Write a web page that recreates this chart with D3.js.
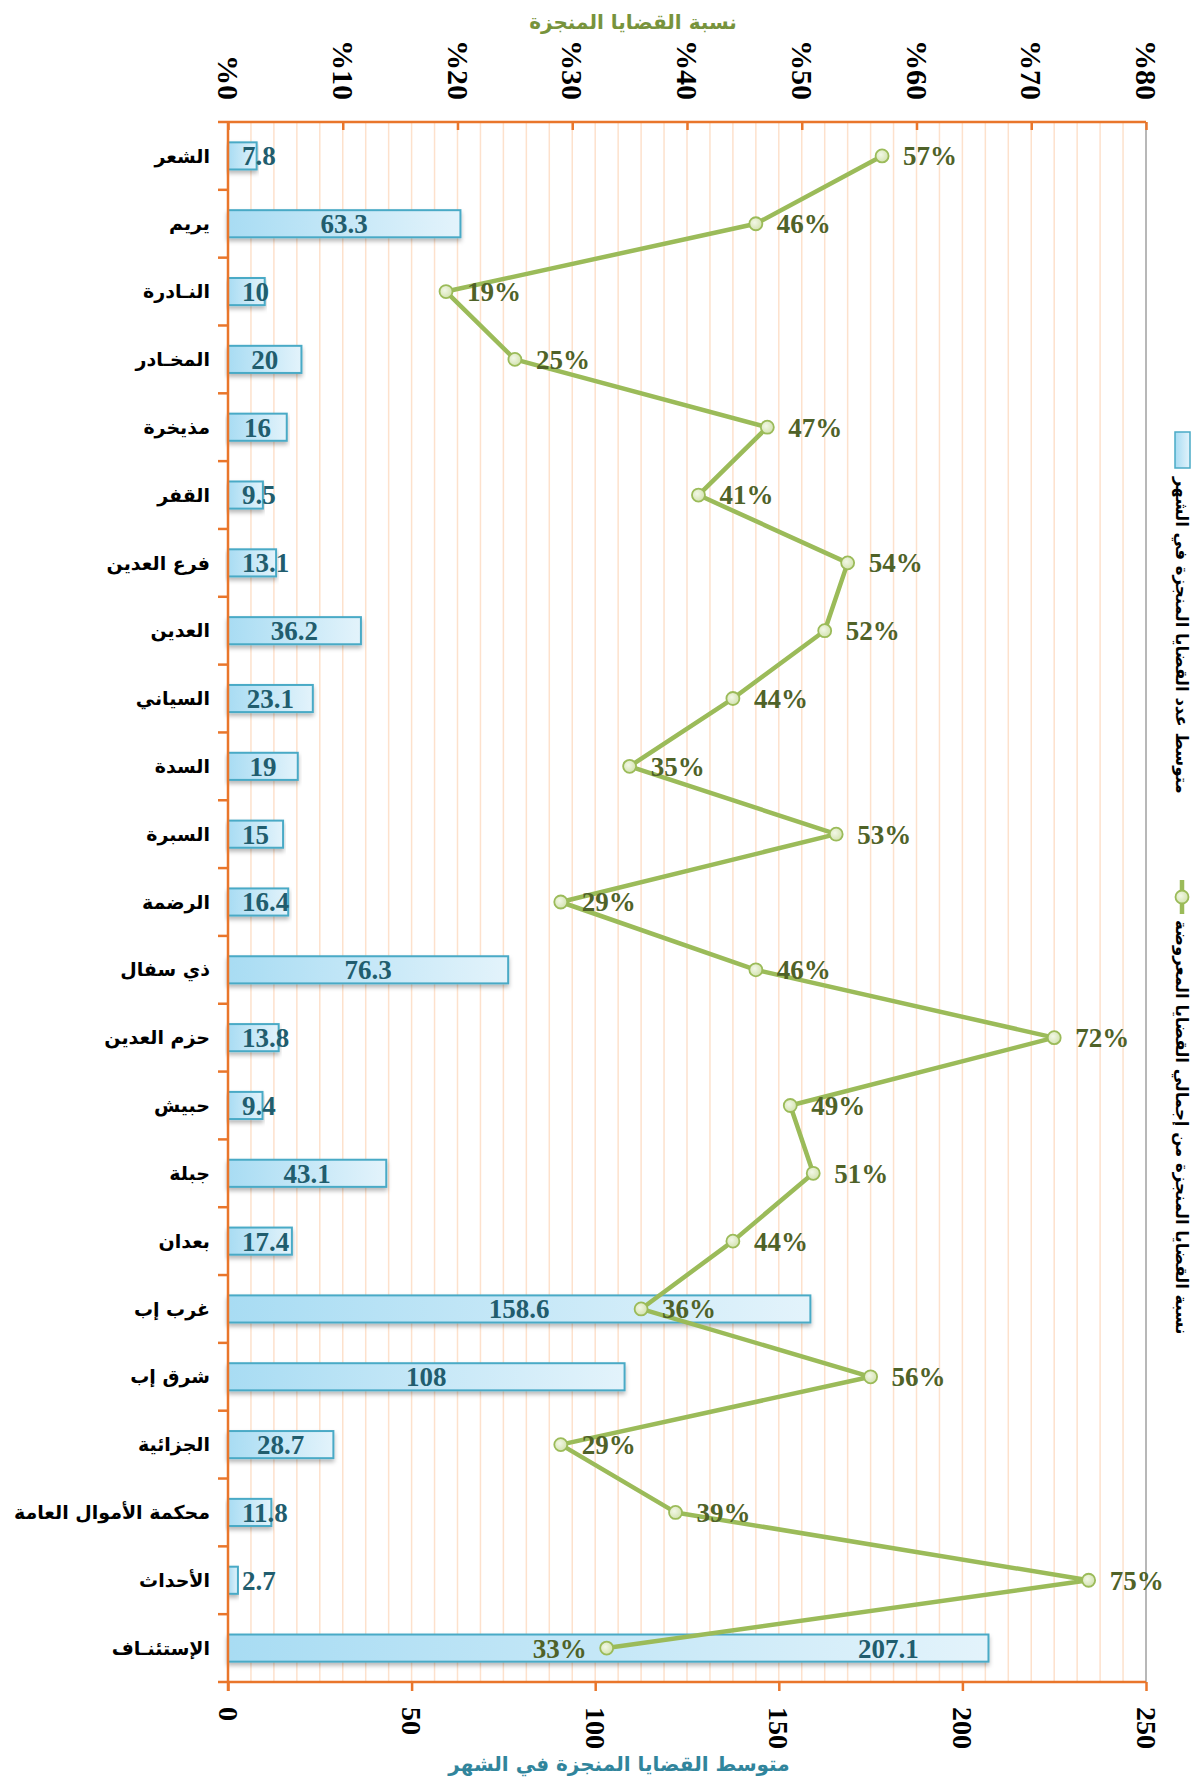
<!DOCTYPE html>
<html>
<head>
<meta charset="utf-8">
<script src="https://cdn.jsdelivr.net/npm/d3@7/dist/d3.min.js"></script>
<style>
  body { margin: 0; background: #ffffff; }
  svg { display: block; }
</style>
</head>
<body>
<svg id="chart" width="1200" height="1780"></svg>
<script>
// Courts, top to bottom
const categories = [
  "الشعر", "يريم", "النـادرة", "المخـادر", "مذيخرة", "القفر", "فرع العدين",
  "العدين", "السياني", "السدة", "السبرة", "الرضمة", "ذي سفال", "حزم العدين",
  "حبيش", "جبلة", "بعدان", "غرب إب", "شرق إب", "الجزائية",
  "محكمة الأموال العامة", "الأحداث", "الإستئنـاف"
];
// Average number of cases completed per month
const monthlyAverage = [
  7.8, 63.3, 10, 20, 16, 9.5, 13.1, 36.2, 23.1, 19, 15, 16.4, 76.3, 13.8,
  9.4, 43.1, 17.4, 158.6, 108, 28.7, 11.8, 2.7, 207.1
];
// Share of completed cases out of all cases presented (%)
const completionRate = [
  57, 46, 19, 25, 47, 41, 54, 52, 44, 35, 53, 29, 46, 72, 49, 51, 44, 36,
  56, 29, 39, 75, 33
];
const rateTicks = [0, 10, 20, 30, 40, 50, 60, 70, 80];
const countTicks = [0, 50, 100, 150, 200, 250];

const barSeriesName = "متوسط عدد القضايا المنجزة في الشهر";
const lineSeriesName = "نسبة القضايا المنجزة من إجمالي القضايا المعروضة";
const rateAxisTitle = "نسبة القضايا المنجزة";
const countAxisTitle = "متوسط القضايا المنجزة في الشهر";

(function draw() {
const svg = d3.select("#chart");
const plotL = 228, plotR = 1146, plotT = 122, plotB = 1682;
const orange = "#e9762b";
const numFont = "'Liberation Serif', 'Times New Roman', serif";
const arFont = "'DejaVu Sans', sans-serif";

const x = d3.scaleLinear().domain([0, 250]).range([plotL, plotR]);
const xp = d3.scaleLinear().domain([0, 80]).range([plotL, plotR]);
const y = d3.scaleBand().domain(categories).range([plotT, plotB]);
const barH = y.bandwidth() * 0.4;
const cy = c => y(c) + y.bandwidth() / 2;

// defs: bar gradient, shadow, marker gradient
const defs = svg.append("defs");
const grad = defs.append("linearGradient").attr("id", "barGrad")
  .attr("x1", "0").attr("x2", "1").attr("y1", "0").attr("y2", "0");
grad.append("stop").attr("offset", "0").attr("stop-color", "#a8dcf3");
grad.append("stop").attr("offset", "1").attr("stop-color", "#e3f3fb");
const mg = defs.append("radialGradient").attr("id", "markGrad")
  .attr("cx", "0.4").attr("cy", "0.4").attr("r", "0.7");
mg.append("stop").attr("offset", "0").attr("stop-color", "#f2f7e6");
mg.append("stop").attr("offset", "1").attr("stop-color", "#cfe0a8");
const sh = defs.append("filter").attr("id", "shadow")
  .attr("x", "-5%").attr("y", "-30%").attr("width", "110%").attr("height", "180%");
sh.append("feDropShadow").attr("dx", 0).attr("dy", 3).attr("stdDeviation", 2)
  .attr("flood-color", "#000").attr("flood-opacity", 0.28);

// vertical minor grid (every 2%)
svg.append("g").selectAll("line")
  .data(d3.range(2, 80, 2))
  .join("line")
  .attr("x1", d => xp(d)).attr("x2", d => xp(d))
  .attr("y1", plotT).attr("y2", plotB)
  .attr("stroke", "#fde1cc").attr("stroke-width", 1.5);

// right border
svg.append("line").attr("x1", plotR).attr("x2", plotR)
  .attr("y1", plotT).attr("y2", plotB)
  .attr("stroke", "#a0a0a0").attr("stroke-width", 1.5);

// bars
svg.append("g").selectAll("rect")
  .data(categories)
  .join("rect")
  .attr("x", x(0))
  .attr("y", c => cy(c) - barH / 2)
  .attr("width", (c, i) => x(monthlyAverage[i]) - x(0))
  .attr("height", barH)
  .attr("fill", "url(#barGrad)")
  .attr("stroke", "#4aaac6").attr("stroke-width", 2)
  .attr("filter", "url(#shadow)");

// line series
const linePts = categories.map((c, i) => [xp(completionRate[i]), cy(c)]);
svg.append("path")
  .attr("d", d3.line()(linePts))
  .attr("fill", "none").attr("stroke", "#9bbb59").attr("stroke-width", 4.5)
  .attr("stroke-linejoin", "round");
svg.append("g").selectAll("circle")
  .data(linePts)
  .join("circle")
  .attr("cx", d => d[0]).attr("cy", d => d[1]).attr("r", 6.5)
  .attr("fill", "url(#markGrad)").attr("stroke", "#9bbb59").attr("stroke-width", 1.8);

// bar value labels (moved toward the bar end when a line point sits on the centre)
const barLabels = svg.append("g")
  .attr("font-family", numFont).attr("font-weight", "bold")
  .attr("font-size", 27).attr("fill", "#215d6e");
const clash = categories.map((c, i) => {
  const mid = (x(0) + x(monthlyAverage[i])) / 2;
  return Math.abs(mid - xp(completionRate[i])) < 40;
});
categories.forEach((c, i) => {
  const v = monthlyAverage[i];
  const t = barLabels.append("text")
    .attr("y", cy(c)).attr("dy", "0.35em")
    .attr("text-anchor", "middle")
    .text(String(v));
  const w = t.node().getComputedTextLength();
  let px = Math.max((x(0) + x(v)) / 2, x(0) + 14 + w / 2);
  if (clash[i]) px = x(v) - 100;
  t.attr("x", px);
});

// percentage labels
const pctLabels = svg.append("g")
  .attr("font-family", numFont).attr("font-weight", "bold")
  .attr("font-size", 27).attr("fill", "#4f6228");
categories.forEach((c, i) => {
  const px = xp(completionRate[i]);
  pctLabels.append("text")
    .attr("x", clash[i] ? px - 20 : px + 21)
    .attr("y", cy(c)).attr("dy", "0.35em")
    .attr("text-anchor", clash[i] ? "end" : "start")
    .text(completionRate[i] + "%");
});

// top (percentage) axis
const topAxis = svg.append("g").attr("transform", `translate(0,${plotT})`)
  .call(d3.axisTop(xp).tickValues(rateTicks).tickSizeInner(-8).tickSizeOuter(0)
    .tickFormat(d => "%" + d));
topAxis.select(".domain").attr("stroke", orange).attr("stroke-width", 2.5)
  .attr("d", `M${plotL - 10},0H${plotR}`);
topAxis.selectAll(".tick line").attr("stroke", orange).attr("stroke-width", 2.5);
topAxis.selectAll(".tick text")
  .attr("x", 0).attr("y", 0).attr("dy", "0.35em")
  .attr("transform", "translate(0,-22) rotate(90)")
  .attr("text-anchor", "end")
  .attr("font-family", numFont).attr("font-weight", "bold")
  .attr("font-size", 30).attr("fill", "#000");

// bottom (count) axis
const botAxis = svg.append("g").attr("transform", `translate(0,${plotB})`)
  .call(d3.axisBottom(x).tickValues(countTicks).tickSizeInner(9).tickSizeOuter(0));
botAxis.select(".domain").attr("stroke", orange).attr("stroke-width", 2.5)
  .attr("d", `M${plotL - 10},0H${plotR}`);
botAxis.selectAll(".tick line").attr("stroke", orange).attr("stroke-width", 2.5);
botAxis.selectAll(".tick text")
  .attr("x", 0).attr("y", 0).attr("dy", "0.35em")
  .attr("transform", "translate(0,25) rotate(90)")
  .attr("text-anchor", "start")
  .attr("font-family", numFont).attr("font-weight", "bold")
  .attr("font-size", 28).attr("fill", "#000");

// category axis
const catAxis = svg.append("g");
catAxis.append("line").attr("x1", plotL).attr("x2", plotL)
  .attr("y1", plotT).attr("y2", plotB + 9)
  .attr("stroke", orange).attr("stroke-width", 2.5);
catAxis.selectAll("line.tk")
  .data(categories.slice(1))
  .join("line").attr("class", "tk")
  .attr("x1", plotL - 10).attr("x2", plotL)
  .attr("y1", c => y(c)).attr("y2", c => y(c))
  .attr("stroke", orange).attr("stroke-width", 2.5);
catAxis.selectAll("text")
  .data(categories)
  .join("text")
  .attr("x", 210).attr("y", c => cy(c)).attr("dy", "0.35em")
  .attr("text-anchor", "end")
  .attr("font-family", arFont).attr("font-weight", "bold")
  .attr("font-size", 19).attr("fill", "#000")
  .text(c => c);

// axis titles
svg.append("text").attr("x", 633).attr("y", 22).attr("dy", "0.35em")
  .attr("text-anchor", "middle").attr("font-family", arFont)
  .attr("font-weight", "bold").attr("font-size", 20).attr("fill", "#77933c")
  .text(rateAxisTitle);
svg.append("text").attr("x", 619).attr("y", 1764).attr("dy", "0.35em")
  .attr("text-anchor", "middle").attr("font-family", arFont)
  .attr("font-weight", "bold").attr("font-size", 20).attr("fill", "#31859c")
  .text(countAxisTitle);

// legend (vertical, right side)
const lg = svg.append("g");
lg.append("rect").attr("x", 1175).attr("y", 432).attr("width", 15).attr("height", 36)
  .attr("fill", "url(#barGrad)").attr("stroke", "#4aaac6").attr("stroke-width", 1.5);
lg.append("text")
  .attr("transform", "translate(1182,477) rotate(90)")
  .attr("dy", "0.35em").attr("text-anchor", "start")
  .attr("font-family", arFont).attr("font-weight", "bold")
  .attr("font-size", 16.5).attr("fill", "#000")
  .text(barSeriesName);
lg.append("line").attr("x1", 1182).attr("x2", 1182).attr("y1", 880).attr("y2", 914)
  .attr("stroke", "#9bbb59").attr("stroke-width", 4.5);
lg.append("circle").attr("cx", 1182).attr("cy", 897).attr("r", 6.5)
  .attr("fill", "url(#markGrad)").attr("stroke", "#9bbb59").attr("stroke-width", 1.8);
lg.append("text")
  .attr("transform", "translate(1182,920) rotate(90)")
  .attr("dy", "0.35em").attr("text-anchor", "start")
  .attr("font-family", arFont).attr("font-weight", "bold")
  .attr("font-size", 16.5).attr("fill", "#000")
  .text(lineSeriesName);
})();
</script>
</body>
</html>
